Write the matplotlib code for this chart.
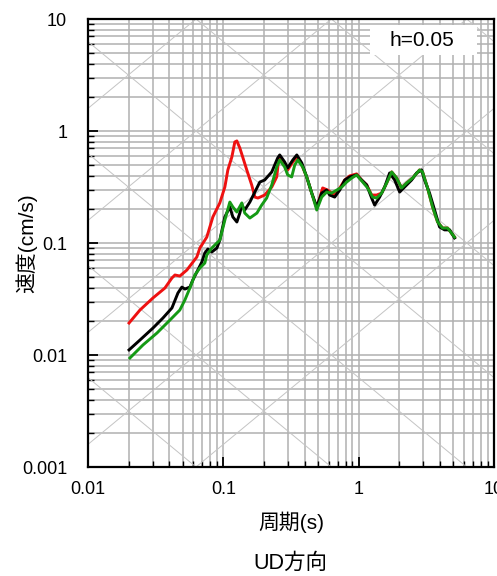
import numpy as np
import matplotlib
matplotlib.use('Agg')
import matplotlib.pyplot as plt
from matplotlib.patches import Rectangle
from matplotlib.ticker import FixedLocator, LogLocator, NullFormatter

plt.rcParams['font.family'] = ['Liberation Sans', 'Noto Sans CJK JP']

###### data (period s, velocity cm/s)

T_red = [0.0201, 0.0242, 0.0302, 0.0370, 0.0417, 0.0439, 0.0477, 0.0538, 0.0637, 0.0671,
         0.0755, 0.0837, 0.0942, 0.1026, 0.108, 0.1156, 0.1216, 0.1259, 0.1324, 0.139,
         0.149, 0.162, 0.171, 0.180, 0.202, 0.228, 0.248, 0.257, 0.284, 0.299,
         0.326, 0.349, 0.380, 0.413, 0.450, 0.490, 0.542, 0.590, 0.665, 0.725,
         0.789, 0.858, 0.966, 1.052, 1.146, 1.247, 1.358, 1.479, 1.610, 1.754,
         1.909, 2.077, 2.261, 2.504, 2.818, 2.966, 3.228, 3.516, 3.83, 4.17,
         4.54, 5.11]
Sv_red = [0.0193, 0.0252, 0.0323, 0.0396, 0.0487, 0.0518, 0.0507, 0.0574, 0.0750, 0.0902,
          0.113, 0.171, 0.228, 0.316, 0.449, 0.586, 0.798, 0.815, 0.705, 0.586,
          0.449, 0.330, 0.257, 0.252, 0.268, 0.316, 0.389, 0.574, 0.497, 0.449,
          0.529, 0.586, 0.497, 0.389, 0.279, 0.205, 0.310, 0.297, 0.268, 0.310,
          0.365, 0.397, 0.414, 0.365, 0.330, 0.268, 0.268, 0.279, 0.343, 0.431,
          0.380, 0.310, 0.343, 0.380, 0.449, 0.431, 0.310, 0.210, 0.154, 0.136,
          0.136, 0.113]

T_black = [0.0201, 0.0242, 0.0302, 0.0358, 0.0417, 0.0462, 0.0494, 0.0520, 0.0566, 0.0595,
           0.0648, 0.0694, 0.0730, 0.0769, 0.0822, 0.0896, 0.0942, 0.1026, 0.1117, 0.1175,
           0.1259, 0.1324, 0.137, 0.144, 0.157, 0.171, 0.186, 0.202, 0.228, 0.252,
           0.261, 0.284, 0.299, 0.326, 0.349, 0.380, 0.413, 0.450, 0.490, 0.533,
           0.580, 0.611, 0.665, 0.725, 0.789, 0.858, 0.966, 1.052, 1.146, 1.247,
           1.312, 1.429, 1.556, 1.694, 1.845, 2.009, 2.184, 2.461, 2.681, 2.917,
           3.069, 3.34, 3.64, 3.96, 4.31, 4.70, 5.11]
Sv_black = [0.0111, 0.0136, 0.0174, 0.0214, 0.0263, 0.0358, 0.0404, 0.0388, 0.0404, 0.0467,
            0.0574, 0.0677, 0.0814, 0.0884, 0.0831, 0.0902, 0.106, 0.171, 0.210, 0.171,
            0.154, 0.185, 0.218, 0.197, 0.232, 0.285, 0.350, 0.365, 0.431, 0.574,
            0.611, 0.529, 0.468, 0.551, 0.611, 0.518, 0.389, 0.279, 0.210, 0.279,
            0.297, 0.268, 0.257, 0.297, 0.365, 0.389, 0.405, 0.365, 0.330, 0.252,
            0.218, 0.257, 0.316, 0.422, 0.365, 0.285, 0.316, 0.365, 0.422, 0.449,
            0.365, 0.279, 0.197, 0.139, 0.131, 0.131, 0.111]

T_green = [0.0204, 0.0255, 0.0323, 0.0403, 0.0477, 0.0520, 0.0566, 0.0616, 0.0671, 0.0730,
           0.0755, 0.0822, 0.0896, 0.0942, 0.1026, 0.1117, 0.1175, 0.1259, 0.137, 0.144,
           0.157, 0.177, 0.192, 0.209, 0.228, 0.248, 0.261, 0.284, 0.299, 0.320,
           0.337, 0.355, 0.386, 0.413, 0.450, 0.490, 0.533, 0.580, 0.632, 0.689,
           0.750, 0.815, 0.888, 0.966, 1.071, 1.165, 1.268, 1.358, 1.479, 1.610,
           1.754, 1.909, 2.077, 2.261, 2.504, 2.818, 2.966, 3.228, 3.516, 3.83,
           4.17, 4.54, 5.11]
Sv_green = [0.0094, 0.0123, 0.0157, 0.0205, 0.0252, 0.0310, 0.0396, 0.0518, 0.0598, 0.0663,
            0.0782, 0.0902, 0.100, 0.106, 0.160, 0.232, 0.210, 0.189, 0.228, 0.185,
            0.167, 0.185, 0.218, 0.252, 0.330, 0.477, 0.551, 0.477, 0.405, 0.389,
            0.497, 0.551, 0.477, 0.389, 0.279, 0.197, 0.257, 0.285, 0.279, 0.297,
            0.316, 0.350, 0.380, 0.405, 0.350, 0.310, 0.257, 0.252, 0.279, 0.343,
            0.431, 0.380, 0.310, 0.343, 0.380, 0.449, 0.431, 0.310, 0.210, 0.154,
            0.136, 0.136, 0.113]

# tripartite guide lines: displacement (cm) and acceleration (gal)
disp_levels = [1e-5, 1e-4, 1e-3, 1e-2, 1e-1, 1, 10]
acc_levels = [1e-1, 1, 10, 100, 1e3, 1e4, 1e5]

x_ticks = [0.01, 0.1, 1, 10]
x_labels = ['0.01', '0.1', '1', '10']
y_ticks = [0.001, 0.01, 0.1, 1, 10]
y_labels = ['0.001', '0.01', '0.1', '1', '10']


fig = plt.figure(figsize=(4.97, 5.76), dpi=100)
ax = fig.add_axes([88/497, 1-467/576, 406/497, 448/576])
ax.set_xscale('log')
ax.set_yscale('log')

Tl = np.array([0.01, 10.0])
for D in disp_levels:
    ax.plot(Tl, 2*np.pi*D/Tl, color='#c4c4c4', lw=0.7, zorder=0.6)
for A in acc_levels:
    ax.plot(Tl, A*Tl/(2*np.pi), color='#c4c4c4', lw=0.7, zorder=0.6)

ax.plot(T_red, Sv_red, color='#ee1111', lw=2.1, zorder=3)
ax.plot(T_black, Sv_black, color='black', lw=2.1, zorder=4)
ax.plot(T_green, Sv_green, color='#159a15', lw=2.1, zorder=5)

ax.set_xlim(0.01, 10)
ax.set_ylim(0.001, 10)
ax.set_axisbelow(True)
ax.grid(which='both', color='#b0b0b0', lw=1.1)

ax.xaxis.set_major_locator(FixedLocator(x_ticks))
ax.set_xticklabels(x_labels)
ax.yaxis.set_major_locator(FixedLocator(y_ticks))
ax.set_yticklabels(y_labels)
ax.xaxis.set_minor_locator(LogLocator(base=10, subs=np.arange(2, 10)))
ax.yaxis.set_minor_locator(LogLocator(base=10, subs=np.arange(2, 10)))
ax.xaxis.set_minor_formatter(NullFormatter())
ax.yaxis.set_minor_formatter(NullFormatter())
ax.tick_params(which='major', direction='in', length=7, width=1.3, labelsize=13)
ax.tick_params(axis='y', which='major', pad=15)
ax.tick_params(axis='x', which='major', pad=10)
ax.tick_params(which='minor', direction='in', length=4, width=1.0)
for s in ax.spines.values():
    s.set_linewidth(1.6)

ax.add_patch(Rectangle((0.695, 0.92), 0.263, 0.067, transform=ax.transAxes,
                       facecolor='white', edgecolor='none', zorder=1.8))
ax.text(0.822, 0.953, 'h=0.05', transform=ax.transAxes, ha='center', va='center',
        fontsize=15, zorder=6)

ax.set_ylabel('速度(cm/s)', fontsize=15)
ax.yaxis.set_label_coords(-0.125, 0.5)
ax.set_xlabel('周期(s)', fontsize=15, labelpad=10)
fig.text(290/497, 1-563/576, 'UD方向', ha='center', va='center', fontsize=15.5)

plt.savefig('out.png', dpi=100)
